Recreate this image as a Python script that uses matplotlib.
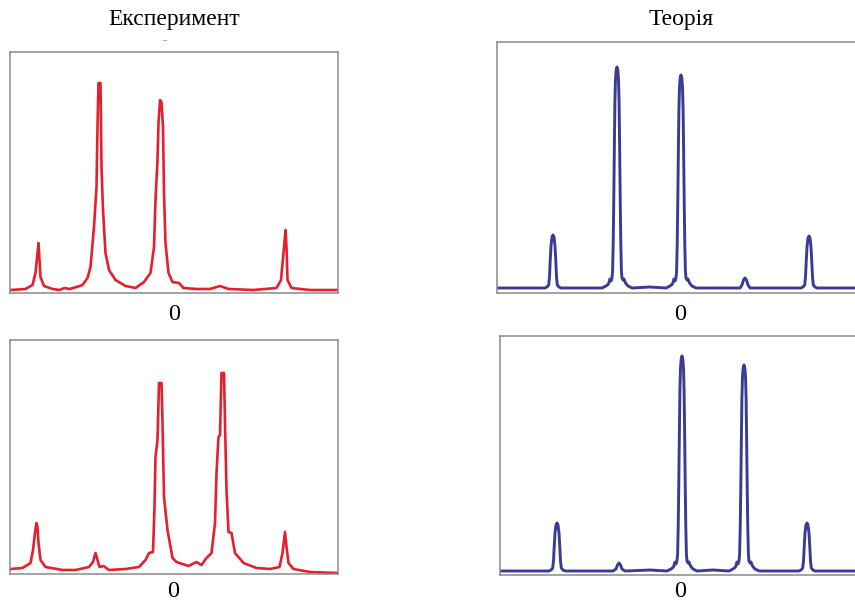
"""Experiment vs theory spectra, 2x2 panels."""
import matplotlib
matplotlib.use("Agg")
import matplotlib.pyplot as plt
from matplotlib.lines import Line2D

plt.rcParams["font.family"] = ["Liberation Serif", "DejaVu Serif"]

# column titles
col_titles = ["Експеримент", "Теорія"]
tick_label = "0"

# ── experiment, top (arbitrary units, 0 = centre) ──
exp_top_x = [-164, -149, -142, -139, -137, -136, -135, -134, -130.5, -122,
             -115, -110, -105, -98, -92, -87, -84, -80.5, -78, -77,
             -76, -74, -73, -71.5, -69, -65.5, -59, -49, -39, -30.5,
             -24, -20.5, -19, -17, -16, -14.5, -13, -11.5, -10.5, -9,
             -6, -2, 4.5, 9, 22, 35.5, 45.5, 54, 79, 102,
             106.5, 109, 111, 112, 113, 117, 135.5, 163]
exp_top_y = [3, 4, 8, 20, 40, 50, 33, 16, 7, 4,
             3, 5, 4, 6, 8, 15, 26, 66, 106, 166,
             210, 210, 126, 83, 40, 23, 13, 7, 5, 11,
             20, 46, 93, 133, 170, 193, 191, 166, 100, 50,
             20, 11, 10, 5, 4, 4, 7, 4, 3, 5,
             13, 40, 63, 46, 13, 5, 3, 3]

# ── experiment, bottom ──
exp_bot_x = [-163, -151, -143, -140.5, -138.5, -137, -136, -135, -133, -128,
             -111, -98, -84.5, -80.5, -78, -76, -74, -70, -64.5, -48,
             -34.5, -28, -24.5, -20.5, -19, -18, -16, -14.5, -12, -11,
             -9.5, -6, -1, 3, 15, 23, 28, 33, 38, 41.5,
             43, 45, 46.5, 48, 50.5, 51.5, 53, 55, 58, 61.5,
             70, 83, 96.5, 106, 109, 111.5, 113, 115, 120, 136.5, 163]
exp_bot_y = [5, 6, 11, 24, 41, 51, 47, 31, 14, 7,
             4, 4, 7, 12, 21, 14, 7, 8, 4, 5,
             7, 14, 21, 22, 67, 117, 134, 191, 191, 151,
             77, 44, 16, 12, 8, 12, 9, 16, 21, 51,
             101, 137, 139, 201, 201, 151, 84, 42, 41, 21,
             11, 6, 5, 7, 21, 42, 27, 11, 5, 2, 1]

# ── theory, top ──
theo_top_x = [-183, -160,
              -135, -133, -131.3, -130.5, -129.8, -129, -128, -127, -126, -125, -124.2, -123.5, -122.7, -121, -119,
              -100,
              -78, -74, -71.5, -70, -69, -68, -67.4, -66.8, -66.2, -65.6, -65.1, -64.5, -63.8, -63,
              -62.2, -61.5, -60.9, -60.4, -59.8, -59.2, -58.6, -58, -57, -56, -54.5, -52, -48,
              -30,
              -14, -10, -7.5, -6, -5, -4, -3.4, -2.8, -2.2, -1.6, -1.1, -0.5, 0.2, 1,
              1.8, 2.5, 3.1, 3.6, 4.2, 4.8, 5.4, 6, 7, 8, 9.5, 12, 16,
              35,
              60, 62, 63.5, 65, 66.5, 68, 70,
              95,
              121, 123, 124.7, 125.5, 126.2, 127, 128, 129, 130, 131, 131.8, 132.5, 133.3, 135, 137,
              160, 183]
theo_top_y = [5, 5,
              5, 6, 8, 16, 32, 47, 56, 58, 56, 47, 32, 16, 8, 6, 5,
              5,
              5, 7, 9, 14, 12, 15, 22, 50, 95, 150, 190, 214, 223, 226,
              223, 214, 190, 150, 95, 50, 22, 15, 13, 14, 10, 7, 5,
              6,
              5, 7, 9, 14, 12, 15, 22, 48, 92, 145, 183, 206, 215, 218,
              215, 206, 183, 145, 92, 48, 22, 15, 13, 14, 10, 7, 5,
              5,
              5, 8, 13, 15, 13, 8, 5,
              5,
              5, 6, 8, 16, 31, 46, 55, 57, 55, 46, 31, 16, 8, 6, 5,
              5, 5]

# ── theory, bottom ──
theo_bot_x = [-180, -155,
              -131, -129, -127.3, -126.5, -125.8, -125, -124, -123, -122, -121, -120.2, -119.5, -118.7, -117, -115,
              -90,
              -67, -64, -62.5, -61, -59.5, -58, -55,
              -30,
              -13, -9, -6.5, -5, -4, -3, -2.4, -1.8, -1.2, -0.6, -0.1, 0.5, 1.2, 2,
              2.8, 3.5, 4.1, 4.6, 5.2, 5.8, 6.4, 7, 8, 9, 10.5, 13, 17,
              33,
              49, 53, 55.5, 57, 58, 59, 59.6, 60.2, 60.8, 61.4, 61.9, 62.5, 63.2, 64,
              64.8, 65.5, 66.1, 66.6, 67.2, 67.8, 68.4, 69, 70, 71, 72.5, 75, 79,
              100,
              119, 121, 122.7, 123.5, 124.2, 125, 126, 127, 128, 129, 129.8, 130.5, 131.3, 133, 135,
              160, 182]
theo_bot_y = [4, 4,
              4, 5, 7, 14, 28, 42, 50, 52, 50, 42, 28, 14, 7, 5, 4,
              4,
              4, 6, 10, 12, 10, 6, 4,
              5,
              4, 6, 8, 13, 11, 14, 21, 48, 92, 145, 184, 207, 216, 219,
              216, 207, 184, 145, 92, 48, 21, 14, 12, 13, 9, 6, 4,
              5,
              4, 6, 8, 13, 11, 14, 21, 46, 88, 139, 177, 199, 207, 210,
              207, 199, 177, 139, 88, 46, 21, 14, 12, 13, 9, 6, 4,
              4,
              4, 5, 7, 14, 28, 42, 50, 52, 50, 42, 28, 14, 7, 5, 4,
              4, 4]

RED = "#e5202e"
BLUE = "#3b3b94"
SPINE = "#8a8a8a"

W, H = 855, 603


def px_axes(fig, left, top, right, bottom):
    """axes placed by pixel box (may run past the right edge like the original)"""
    return fig.add_axes([left / W, 1 - bottom / H, (right - left) / W, (bottom - top) / H])


def style(ax, xlim, ylim, pad=8):
    ax.set_xlim(*xlim)
    ax.set_ylim(*ylim)
    ax.set_xticks([0])
    ax.set_xticklabels([tick_label], fontsize=17.5)
    ax.set_yticks([])
    ax.tick_params(axis="x", length=0, pad=pad)
    for s in ax.spines.values():
        s.set_color(SPINE)
        s.set_linewidth(1.1)


def main():
    fig = plt.figure(figsize=(W / 100, H / 100), dpi=100)

    ax = px_axes(fig, 9.5, 52, 337.5, 293)
    ax.plot(exp_top_x, exp_top_y, color=RED, lw=1.9, solid_joinstyle="round")
    style(ax, (-165, 163), (0, 241))

    ax = px_axes(fig, 9.5, 340, 337.5, 574)
    ax.plot(exp_bot_x, exp_bot_y, color=RED, lw=1.9, solid_joinstyle="round")
    style(ax, (-164, 164), (0, 234), pad=5)

    ax = px_axes(fig, 497, 42, 863, 293)
    ax.plot(theo_top_x, theo_top_y, color=BLUE, lw=2.1, solid_joinstyle="round")
    style(ax, (-183, 183), (0, 251))

    ax = px_axes(fig, 500, 336, 862, 575)
    ax.plot(theo_bot_x, theo_bot_y, color=BLUE, lw=2.1, solid_joinstyle="round")
    style(ax, (-180, 182), (0, 239), pad=4)

    fig.text(174 / W, 1 - 20 / H, col_titles[0], ha="center", va="center", fontsize=17)
    fig.text(681 / W, 1 - 20 / H, col_titles[1], ha="center", va="center", fontsize=17)
    # small grey mark under the left title
    fig.lines.append(Line2D([162.5 / W, 166 / W], [1 - 40 / H, 1 - 40 / H],
                            transform=fig.transFigure, color="#b0b0b0", lw=0.8))

    fig.savefig("out.png", dpi=100)
    plt.close(fig)


if __name__ == "__main__":
    main()
